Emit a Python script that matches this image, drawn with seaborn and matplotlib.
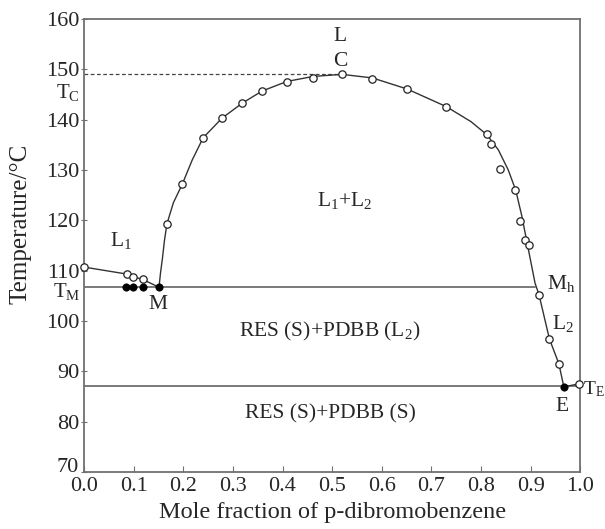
import numpy as np
import pandas as pd
import matplotlib
matplotlib.use('Agg')
import matplotlib.pyplot as plt
import matplotlib.transforms as mtransforms
import seaborn as sns

# open circles (measured points)
open_x = [0.0, 0.087, 0.099, 0.119, 0.167, 0.198, 0.240, 0.278, 0.319, 0.359, 0.409,
          0.462, 0.520, 0.581, 0.651, 0.730, 0.812, 0.820, 0.838, 0.869, 0.879,
          0.889, 0.897, 0.917, 0.938, 0.957, 0.998]
open_t = [110.7, 109.3, 108.7, 108.3, 119.3, 127.2, 136.4, 140.3, 143.3, 145.7, 147.4,
          148.2, 149.0, 148.1, 146.1, 142.5, 137.1, 135.1, 130.2, 126.0, 119.9,
          116.1, 115.1, 105.2, 96.4, 91.5, 87.5]

# filled circles (invariant points)
fill_x = [0.085, 0.099, 0.119, 0.151, 0.967]
fill_t = [106.7, 106.7, 106.7, 106.7, 86.9]

# L1 liquidus line
l1_x = [0.0, 0.087, 0.099, 0.119, 0.151]
l1_t = [110.7, 109.3, 108.8, 108.2, 106.7]

# binodal + L2 liquidus
dome_x = [0.151, 0.154, 0.158, 0.162, 0.167, 0.180, 0.198, 0.218, 0.240, 0.278, 0.319,
          0.359, 0.409, 0.462, 0.520, 0.581, 0.651, 0.730, 0.780, 0.812, 0.835,
          0.855, 0.870, 0.882, 0.892, 0.900, 0.909, 0.917, 0.938, 0.957, 0.967]
dome_t = [106.7, 109.5, 112.5, 116.0, 119.3, 123.5, 127.2, 132.0, 136.4, 140.3, 143.3,
          145.7, 147.6, 148.6, 149.0, 148.3, 146.1, 142.6, 139.6, 137.0, 134.0,
          130.0, 126.0, 121.0, 116.0, 112.0, 107.5, 105.2, 96.4, 91.5, 86.9]

# E -> TE
te_x = [0.967, 0.998]
te_t = [86.9, 87.5]

T_C = 149.0
T_M = 106.7
T_E = 87.0
x_Mh = 0.909

x_ticks = [0.0, 0.1, 0.2, 0.3, 0.4, 0.5, 0.6, 0.7, 0.8, 0.9, 1.0]
y_ticks = [70, 80, 90, 100, 110, 120, 130, 140, 150, 160]

sns.set_style('ticks')
plt.rcParams['font.family'] = ['Liberation Serif', 'DejaVu Serif']
plt.rcParams['mathtext.fontset'] = 'custom'
plt.rcParams['mathtext.rm'] = 'Liberation Serif'
plt.rcParams['mathtext.it'] = 'Liberation Serif'

fig = plt.figure(figsize=(6.05, 5.29), dpi=100)
ax = fig.add_axes([0.139, 0.108, 0.820, 0.856])

gray = '#707070'
lw_c = 1.0

# horizontal lines
sns.lineplot(x=[0.0, x_Mh], y=[T_M, T_M], color=gray, lw=1.3, ax=ax)
sns.lineplot(x=[0.0, 1.0], y=[T_E, T_E], color=gray, lw=1.3, ax=ax)
ax.plot([0.0, 0.52], [T_C, T_C], color='#444444', lw=0.9, ls=(0, (3, 2)))

sns.lineplot(x=l1_x, y=l1_t, sort=False, color='#333333', lw=lw_c, ax=ax)
sns.lineplot(x=dome_x, y=dome_t, sort=False, color='#333333', lw=lw_c, ax=ax)
sns.lineplot(x=te_x, y=te_t, sort=False, color='#333333', lw=lw_c, ax=ax)

sns.scatterplot(x=open_x, y=open_t, s=28, facecolor='white', edgecolor='#222222',
                linewidth=0.9, zorder=5, clip_on=False, ax=ax)
sns.scatterplot(x=fill_x, y=fill_t, s=28, color='black', edgecolor='black',
                linewidth=0.5, zorder=6, ax=ax)

fs = 15.5
ax.text(0.516, 156.5, 'L', fontsize=fs, ha='center', va='center')
ax.text(0.516, 151.6, 'C', fontsize=fs, ha='center', va='center')
ax.text(0.526, 124.0, r'L$_1$+L$_2$', fontsize=fs, ha='center', va='center')
ax.text(0.075, 116.0, r'L$_1$', fontsize=fs, ha='center', va='center')
ax.text(0.148, 103.3, 'M', fontsize=fs, ha='center', va='center')
ax.text(0.962, 107.5, r'M$_\mathrm{h}$', fontsize=fs, ha='center', va='center')
ax.text(0.966, 99.5, r'L$_2$', fontsize=fs, ha='center', va='center')
ax.text(0.963, 83.0, 'E', fontsize=fs, ha='center', va='center')
ax.text(0.496, 98.0, r'RES (S)+PDBB (L$_2$)', fontsize=fs, ha='center', va='center')
ax.text(0.496, 81.5, 'RES (S)+PDBB (S)', fontsize=fs, ha='center', va='center')
ax.text(-0.008, 145.4, r'T$_\mathrm{C}$', fontsize=15, ha='right', va='center')
ax.text(-0.008, 105.9, r'T$_\mathrm{M}$', fontsize=15, ha='right', va='center')
ax.text(1.006, 86.4, r'T$_\mathrm{E}$', fontsize=14, ha='left', va='center')

ax.set_xlim(0, 1.0)
ax.set_ylim(70, 160)
ax.set_xticks(x_ticks)
ax.set_xticklabels([f'{v:.1f}' for v in x_ticks])
ax.set_yticks(y_ticks)
ax.tick_params(axis='x', direction='in', length=4, labelsize=16, pad=4, color=gray)
ax.tick_params(axis='y', direction='inout', length=5, labelsize=16, pad=1, color=gray)
for sp in ax.spines.values():
    sp.set_color(gray)
    sp.set_linewidth(1.3)
ax.set_xlabel('Mole fraction of p-dibromobenzene', fontsize=17.5, labelpad=4)
ax.set_ylabel('Temperature/°C', fontsize=18)
ax.yaxis.set_label_coords(-0.107, 0.547)

# lift the "70" label a bit so it clears "0.0", as in the original
lab70 = ax.yaxis.get_major_ticks()[0].label1
lab70.set_transform(lab70.get_transform() +
                    mtransforms.ScaledTranslation(0, 5 / 72, fig.dpi_scale_trans))

fig.savefig('out.png', dpi=100)
